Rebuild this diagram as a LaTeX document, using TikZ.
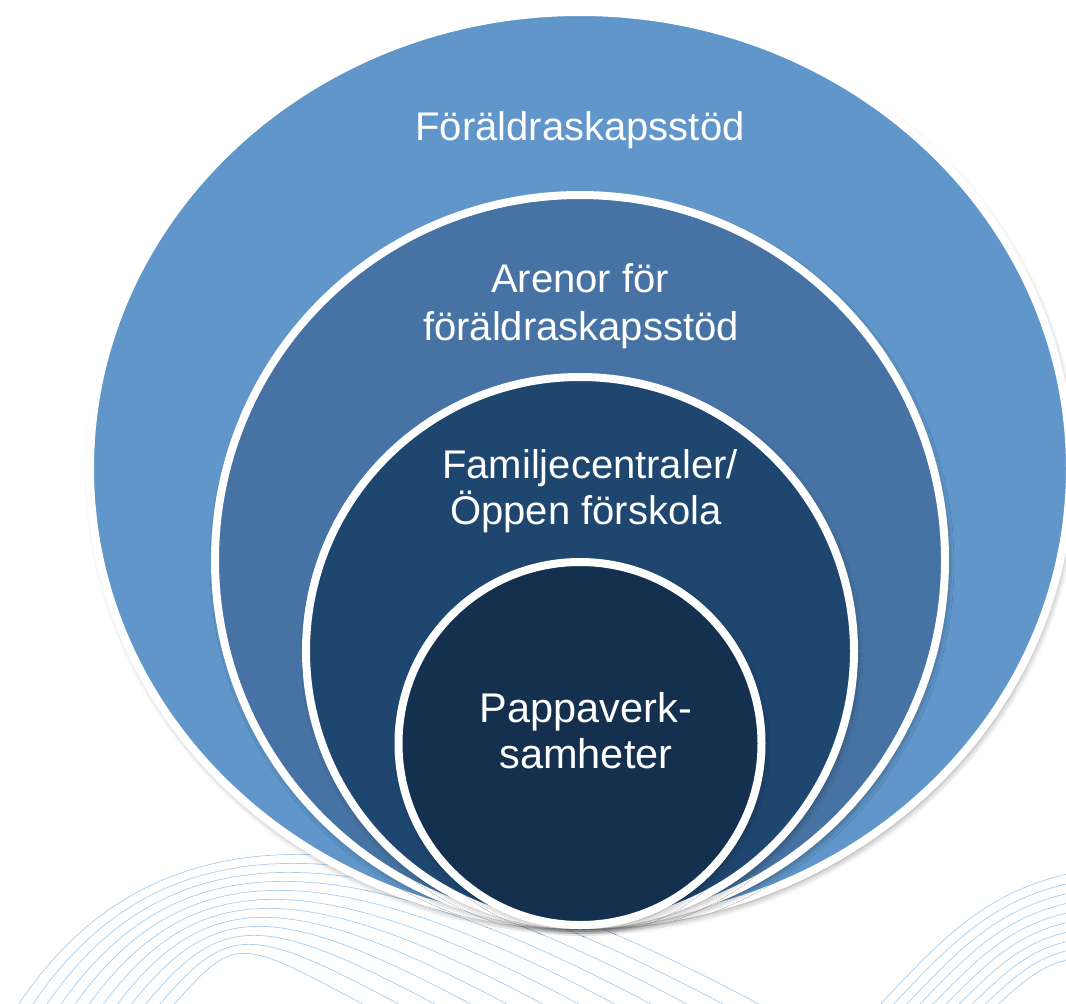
\documentclass[tikz,border=0pt]{standalone}
\usepackage{fontspec}
\setmainfont{Liberation Sans}
\usetikzlibrary{shadows.blur}
\definecolor{ringA}{HTML}{6096C9}
\definecolor{ringB}{HTML}{4673A3}
\definecolor{ringC}{HTML}{1F466F}
\definecolor{ringD}{HTML}{15304E}
\definecolor{wave}{HTML}{A9CCEB}
\tikzset{
  ring/.style={fill=#1, draw=white, line width=8,
    blur shadow={shadow xshift=2pt, shadow yshift=-4pt, shadow blur radius=7pt, shadow opacity=45}},
  wavelinestyle/.style={draw=wave, line width=0.7pt},
  lbl/.style={text=white, anchor=base, inner sep=0pt, font=\fontsize{40}{46}\selectfont},
  lblbig/.style={lbl, font=\fontsize{41.5}{46}\selectfont}
}
\begin{document}
\begin{tikzpicture}[x=1pt,y=-1pt]
\useasboundingbox (0,0) rectangle (1066,1004);
\clip (0,0) rectangle (1066,1004);
% background waves
\foreach \i in {0,...,11}{
  \draw[wavelinestyle] ({15+14*\i},1010) .. controls ({150+8*\i},{800+12*\i}) and ({390-14*\i},{805+12*\i}) .. ({770-36*\i},1010);
}
\foreach \i in {0,...,9}{
  \draw[wavelinestyle] ({875+13*\i},1010) .. controls ({950+10*\i},{930+4*\i}) and ({1000+6*\i},{872+9*\i}) .. (1130,{866+10*\i});
}
% nested ellipses
\path[ring=ringA] (580,468.5) ellipse [x radius=490, y radius=456.5];
\path[ring=ringB] (580,560) circle [radius=365];
\path[ring=ringC] (580,651) circle [radius=274];
\path[ring=ringD] (580,743.5) circle [radius=181.5];
% labels
\node[lbl] (t1) at (580,140) {Föräldraskapsstöd};
\node[lbl] (t2a) at (580,292) {Arenor för};
\node[lbl] (t2b) at (581,340) {föräldraskapsstöd};
\node[lbl] (t3a) at (590,478) {Familjecentraler/};
\node[lbl] (t3b) at (586,524) {Öppen förskola};
\node[lblbig] (t4a) at (586,722) {Pappaverk-};
\node[lblbig] (t4b) at (586,768) {samheter};
\end{tikzpicture}
\end{document}
